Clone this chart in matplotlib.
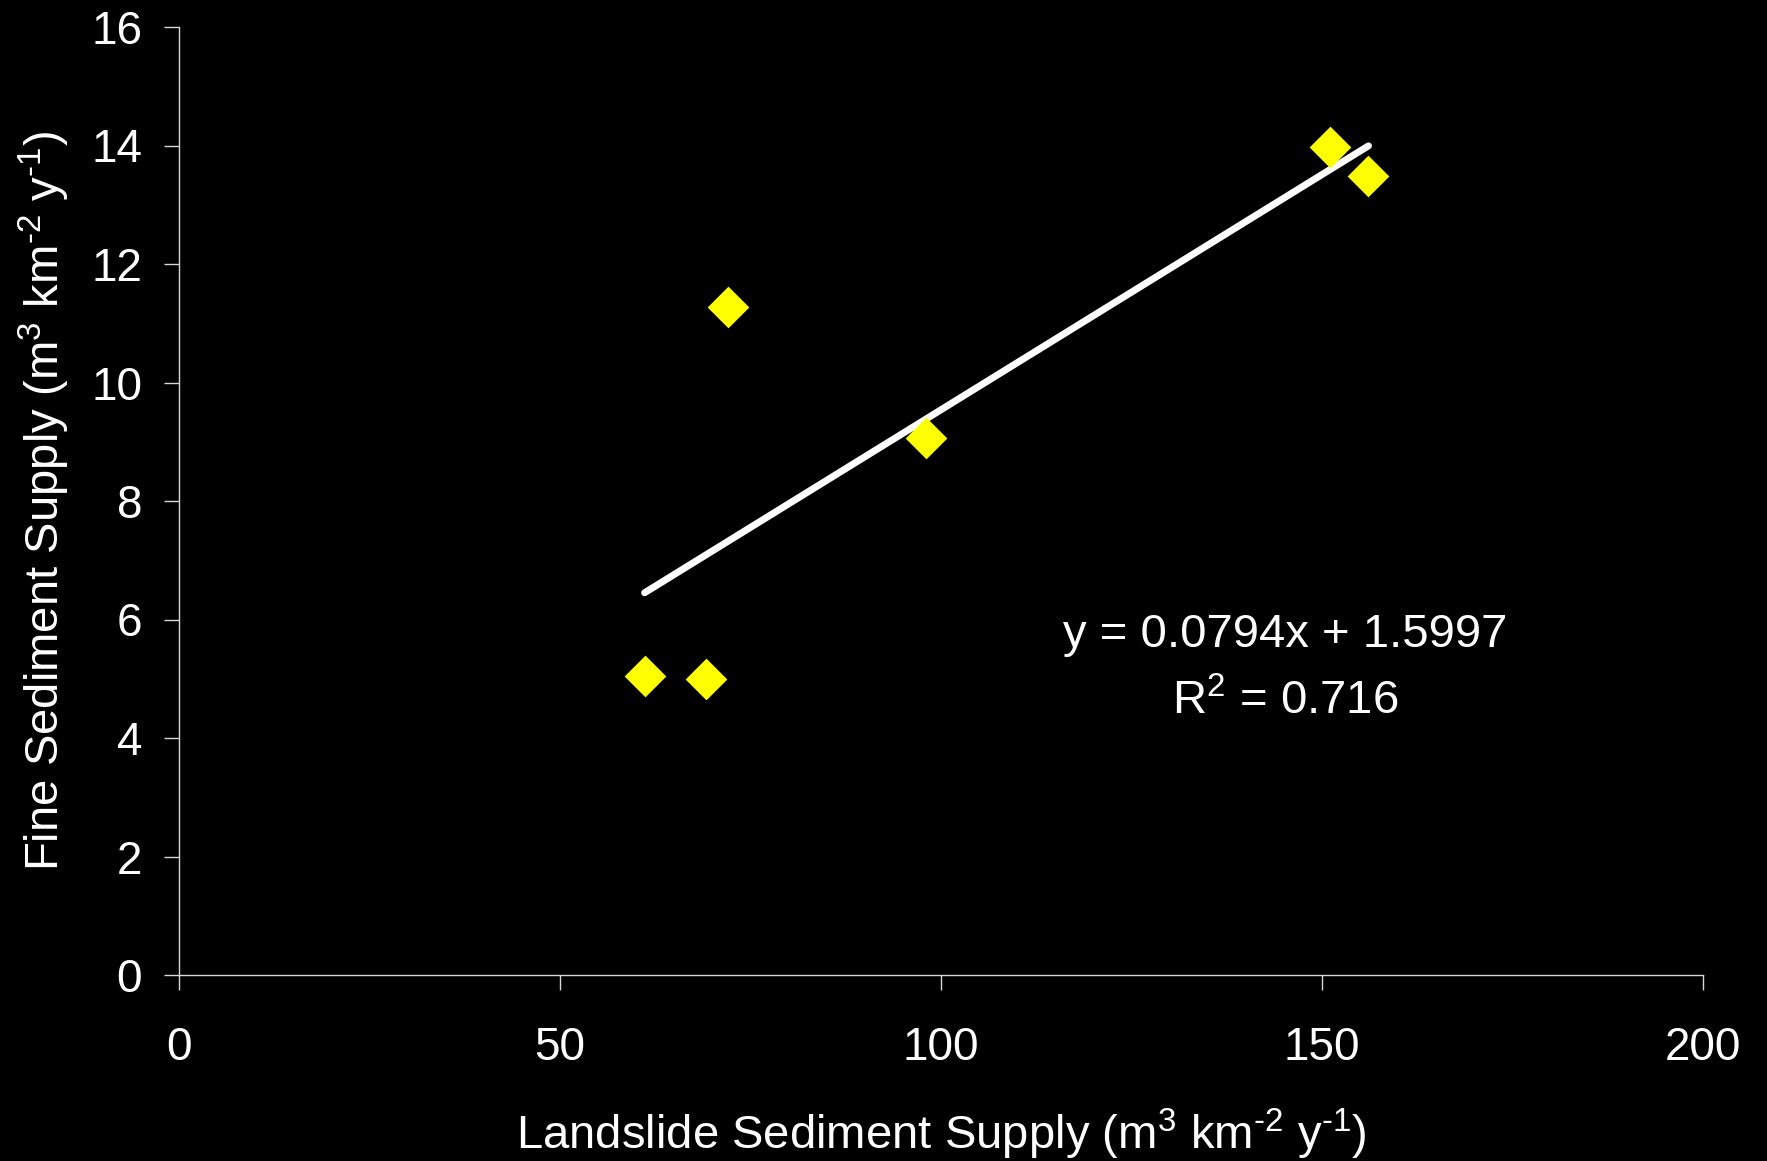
"""Scatter of fine vs landslide sediment supply with a linear trend line."""

import matplotlib
matplotlib.use("Agg")
import matplotlib.pyplot as plt
import numpy as np

plt.rcParams["font.family"] = ["Liberation Sans", "DejaVu Sans"]
plt.rcParams["mathtext.fontset"] = "custom"
plt.rcParams["mathtext.rm"] = "Liberation Sans"
plt.rcParams["mathtext.it"] = "Liberation Sans"

# values
landslide = [61.1, 69.1, 72.1, 98.0, 151.0, 156.1]
fine = [5.04, 4.99, 11.28, 9.07, 13.98, 13.49]
slope = 0.0794
intercept = 1.5997
r_squared = 0.716

x_ticks = [0, 50, 100, 150, 200]
y_ticks = [0, 2, 4, 6, 8, 10, 12, 14, 16]

units = "(m$^{3}$ km$^{\u20102}$ y$^{\u20101}$)"

fig = plt.figure(figsize=(17.67, 11.61), dpi=100, facecolor="black")
ax = fig.add_axes([179 / 1767, 1 - 975 / 1161, (1703 - 179) / 1767, (975 - 27) / 1161])
ax.set_facecolor("black")

# trend line over the data range
xs = np.array([min(landslide), max(landslide)])
ax.plot(xs, slope * xs + intercept, color="white", lw=5, solid_capstyle="round", zorder=2)

diamond = [(-1, 0), (0, 1), (1, 0), (0, -1), (-1, 0)]
ax.plot(landslide, fine, linestyle="none", marker=diamond, markersize=30,
        markerfacecolor="#ffff00", markeredgewidth=0, zorder=3)

ax.set_xlim(0, 200)
ax.set_ylim(0, 16)
ax.set_xticks(x_ticks)
ax.set_yticks(y_ticks)

for side in ["top", "right"]:
    ax.spines[side].set_visible(False)
for side in ["left", "bottom"]:
    ax.spines[side].set_color("#d8d8d8")
    ax.spines[side].set_linewidth(1.0)

ax.tick_params(axis="both", colors="#d8d8d8", labelcolor="white", labelsize=33,
               length=10.5, width=1.0, direction="out")
ax.tick_params(axis="y", pad=16)
ax.tick_params(axis="x", pad=26)

ax.set_xlabel("Landslide Sediment Supply " + units,
              color="white", fontsize=34, va="baseline")
ax.xaxis.set_label_coords(0.5, (975 - 1149) / 948)
ax.set_ylabel("Fine Sediment Supply " + units,
              color="white", fontsize=34, va="baseline", ha="center",
              rotation_mode="anchor")
ax.yaxis.set_label_coords((59.5 - 179) / 1524, 0.5)

ax.text(145.2, 5.54, f"y = {slope}x + {intercept}", color="white", fontsize=34,
        ha="center", va="baseline")
ax.text(145.2, 4.40, f"R$^{{2}}$ = {r_squared}", color="white", fontsize=34,
        ha="center", va="baseline")

fig.savefig("out.png", dpi=100, facecolor="black")
